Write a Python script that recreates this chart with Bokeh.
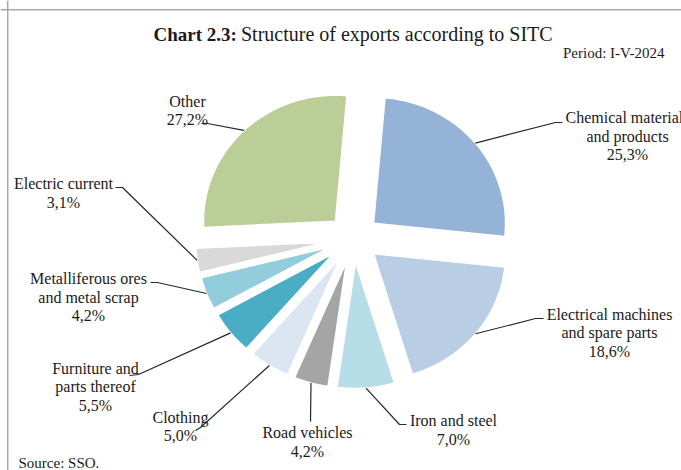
import numpy as np
from bokeh.plotting import figure
from bokeh.models import Range1d, ColumnDataSource, Span
from bokeh.core.properties import value
from bokeh.embed import file_html
from bokeh.resources import INLINE

# ---------------- data ----------------
categories = [
    "Chemical materials\nand products",
    "Electrical machines\nand spare parts",
    "Iron and steel",
    "Road vehicles",
    "Clothing",
    "Furniture and\nparts thereof",
    "Metalliferous ores\nand metal scrap",
    "Electric current",
    "Other",
]
shares = [25.3, 18.6, 7.0, 4.2, 5.0, 5.5, 4.2, 3.1, 27.2]
colors = ["#95B3D7", "#B9CDE5", "#B7DDE8", "#A5A5A5", "#DCE6F2",
          "#4BACC6", "#92CDDC", "#D9D9D9", "#BBCE97"]
title_bold = "Chart 2.3:"
title_rest = "Structure of exports according to SITC"
period_text = "Period: I-V-2024"
source_text = "Source: SSO."

# ---------------- layout ----------------
W, H = 681, 470
FONT = "Liberation Serif"
TXT = "#1a1a1a"
CX, CY = 353.0, 238.0        # pie centre (px)
RX, RY = 132.0, 126.0        # radii
EX, EY = 26.0, 24.0          # explosion offset
START = np.deg2rad(5.0)      # first slice angle, clockwise from top

# label anchor (centre x, first line centre y) and leader elbow/end points
label_pos = [(627, 117), (609, 313.5), (453, 420), (307, 432), (180, 416.5),
             (95, 367.5), (88, 278), (63, 183), (187, 100.5)]
leader_pts = [((555, 122), (562, 122)), ((535, 318), (543, 318)),
              ((399, 424), (406, 424)), ((310, 421), (310, 421)),
              ((200, 427), (195, 430)), ((138, 374), (129, 375)),
              ((157, 282), (150, 282)), ((122, 187), (115, 187)),
              ((207, 123), (201, 123))]
LINE_H = 18.5

p = figure(width=W, height=H, output_backend="svg", toolbar_location=None,
           x_range=Range1d(0, W), y_range=Range1d(H, 0),
           min_border=0, outline_line_color=None)
p.axis.visible = False
p.grid.visible = False
p.background_fill_color = "white"
p.border_fill_color = "white"

# frame (only top and left visible in the reference)
p.add_layout(Span(location=7.2, dimension="height", line_color="#A8A8A8", line_width=1.5))
p.add_layout(Span(location=9.3, dimension="width", line_color="#A8A8A8", line_width=1.5))

# ---------------- slices ----------------
vals = np.array(shares, dtype=float)
frac = vals / vals.sum()
ends = START + np.cumsum(frac) * 2 * np.pi
starts = ends - frac * 2 * np.pi
mids = (starts + ends) / 2

xs, ys = [], []
anchors = []
for a0, a1, am in zip(starts, ends, mids):
    ax = CX + EX * np.sin(am)
    ay = CY - EY * np.cos(am)
    t = np.linspace(a0, a1, 80)
    px = np.concatenate([[ax], ax + RX * np.sin(t)])
    py = np.concatenate([[ay], ay - RY * np.cos(t)])
    xs.append(list(px))
    ys.append(list(py))
    anchors.append((ax + RX * np.sin(am), ay - RY * np.cos(am)))

p.patches(xs="xs", ys="ys", fill_color="color", line_color="white", line_width=1.5,
          source=ColumnDataSource(dict(xs=xs, ys=ys, color=colors)))

# ---------------- leaders ----------------
lx, ly = [], []
for (sx, sy), (e1, e2) in zip(anchors, leader_pts):
    lx.append([sx, e1[0], e2[0]])
    ly.append([sy, e1[1], e2[1]])
p.multi_line(xs=lx, ys=ly, line_color="#262626", line_width=1.2)

# ---------------- labels ----------------
tx, ty, tt = [], [], []
for cat, v, (x0, y0) in zip(categories, shares, label_pos):
    lines = cat.split("\n") + [f"{v:.1f}".replace(".", ",") + "%"]
    for i, ln in enumerate(lines):
        tx.append(x0)
        ty.append(y0 + i * LINE_H)
        tt.append(ln)
p.text(x=tx, y=ty, text=tt, text_font=value(FONT), text_font_size="16px",
       text_color=TXT, text_align="center", text_baseline="middle")

# ---------------- titles / notes ----------------
p.text(x=[153], y=[33.5], text=[title_bold], text_font=value(FONT),
       text_font_size="19px", text_font_style="bold", text_color=TXT,
       text_align="left", text_baseline="alphabetic")
p.text(x=[240.5], y=[33.5], text=[title_rest], text_font=value(FONT),
       text_font_size="20px", text_color=TXT,
       text_align="left", text_baseline="alphabetic")
p.text(x=[664], y=[52], text=[period_text], text_font=value(FONT),
       text_font_size="15px", text_color=TXT,
       text_align="right", text_baseline="middle")
p.text(x=[18], y=[462], text=[source_text], text_font=value(FONT),
       text_font_size="15px", text_color=TXT,
       text_align="left", text_baseline="alphabetic")

open("out.html", "w").write(file_html(p, INLINE))
